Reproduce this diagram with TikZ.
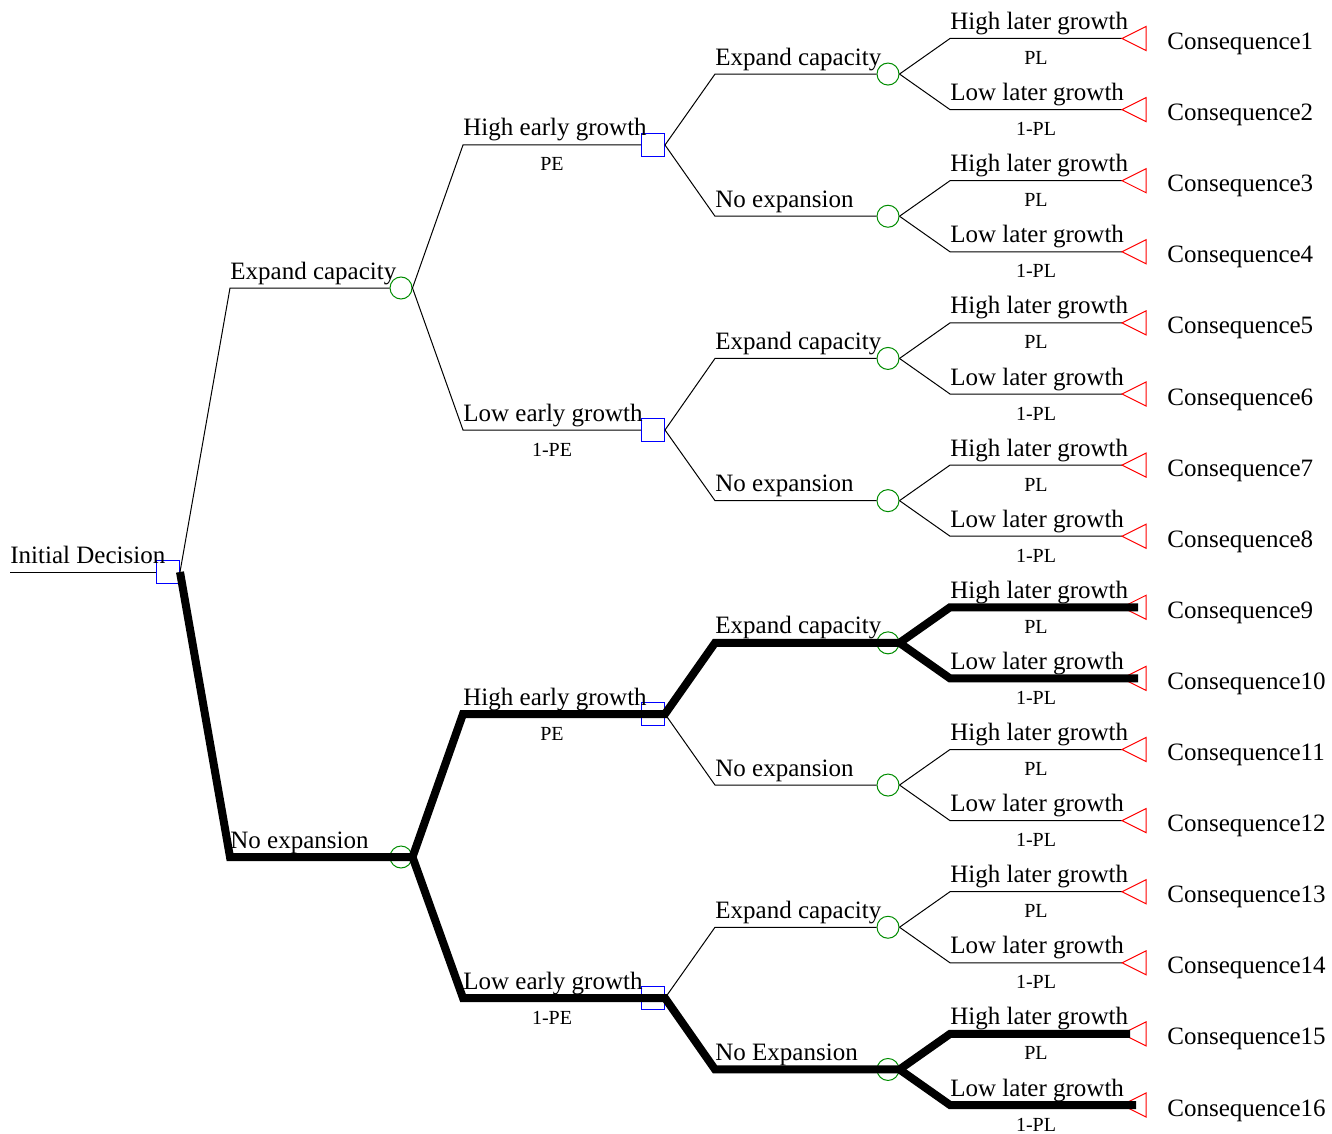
\documentclass[tikz,border=0pt]{standalone}
\usepackage{fontspec}
\setmainfont{Liberation Serif}
\usetikzlibrary{calc}

\definecolor{chancegreen}{RGB}{0,140,0}

\tikzset{
    decision/.style={draw=blue, rectangle, minimum size=11.5pt, inner sep=0pt, line width=0.5pt},
    chance/.style={draw=chancegreen, circle, minimum size=11pt, inner sep=0pt, line width=0.5pt},
    endtri/.style={draw=red, line width=0.5pt, line join=miter},
    branch/.style={line width=0.5pt},
    best/.style={line width=4pt, line join=miter},
    lbl/.style={anchor=base west, inner sep=0pt, font=\fontsize{12.5}{14}\selectfont},
    prob/.style={anchor=base, inner sep=0pt, font=\fontsize{10}{12}\selectfont}
}

\begin{document}
\begin{tikzpicture}[x=0.5pt, y=-0.5pt]
        \useasboundingbox (0,0) rectangle (1332,1134);

        \coordinate (start) at (10,572);
        \node[decision] (root) at (168,572) {};
        \draw[branch] (start) -- (root.west);
        \node[lbl] at ($(start)+(0,-9)$) {Initial Decision};

        \node[chance] (c1) at (401,288) {};
        \node[chance] (c2) at (401,857) {};
        \coordinate (a1) at (230,288);
        \coordinate (a2) at (230,857);
        \draw[branch] (root.east) -- (a1) -- (c1.west);
        \draw[branch] (root.east) -- (a2) -- (c2.west);
        \node[lbl] at ($(a1)+(0,-9)$) {Expand capacity};
        \node[lbl] at ($(a2)+(0,-9)$) {No expansion};

        \node[decision] (d1) at (653,145) {};
        \node[decision] (d2) at (653,430) {};
        \node[decision] (d3) at (653,714) {};
        \node[decision] (d4) at (653,998) {};
        \foreach \i/\p/\txt/\pr in {1/1/High early growth/PE, 2/1/Low early growth/1-PE,
                                     3/2/High early growth/PE, 4/2/Low early growth/1-PE} {
            \coordinate (b\i) at (463,0 |- d\i);
            \draw[branch] (c\p.east) -- (b\i) -- (d\i.west);
            \node[lbl] at ($(b\i)+(0,-9)$) {\txt};
            \node[prob] at ($(b\i)!0.5!(d\i.west)+(0,26)$) {\pr};
        }

        \foreach \j/\txt in {1/Expand capacity, 2/No expansion, 3/Expand capacity, 4/No expansion,
                             5/Expand capacity, 6/No expansion, 7/Expand capacity, 8/No Expansion} {
            \pgfmathsetmacro\ye{38.5+71.1*(2*\j-1.5)}
            \pgfmathtruncatemacro\p{(\j+1)/2}
            \node[chance] (e\j) at (888,\ye) {};
            \coordinate (m\j) at (715,\ye);
            \draw[branch] (d\p.east) -- (m\j) -- (e\j.west);
            \node[lbl] at ($(m\j)+(0,-9)$) {\txt};
        }

        \foreach \k in {1,...,16} {
            \pgfmathsetmacro\yl{38.5+71.1*(\k-1)}
            \pgfmathtruncatemacro\p{(\k+1)/2}
            \pgfmathtruncatemacro\odd{mod(\k,2)}
            \coordinate (l\k) at (950,\yl);
            \coordinate (t\k) at (1122,\yl);
            \draw[branch] (e\p.east) -- (l\k) -- (t\k);
            \draw[endtri] (t\k) -- ++(24,-12) -- ++(0,24) -- cycle;
            \ifnum\odd=1
                \node[lbl] at ($(l\k)+(0,-9)$) {High later growth};
                \node[prob] at ($(l\k)!0.5!(t\k)+(0,26)$) {PL};
            \else
                \node[lbl] at ($(l\k)+(0,-9)$) {Low later growth};
                \node[prob] at ($(l\k)!0.5!(t\k)+(0,26)$) {1-PL};
            \fi
            \node[lbl] (q\k) at ($(1167,\yl)+(0,11)$) {Consequence\k};
        }

        \draw[best] (root.east) -- (a2) -- (c2.west) -- (c2.east) -- (b3) -- (d3.west) -- (d3.east) -- (m5) -- (e5.west) -- (e5.east) -- (l9) -- ($(t9)+(16,0)$);
        \draw[best] (e5.east) -- (l10) -- ($(t10)+(16,0)$);
        \draw[best] (c2.east) -- (b4) -- (d4.west) -- (d4.east) -- (m8) -- (e8.west) -- (e8.east) -- (l15) -- ($(t15)+(8,0)$);
        \draw[best] (e8.east) -- (l16) -- ($(t16)+(14,0)$);
    \end{tikzpicture}
\end{document}
